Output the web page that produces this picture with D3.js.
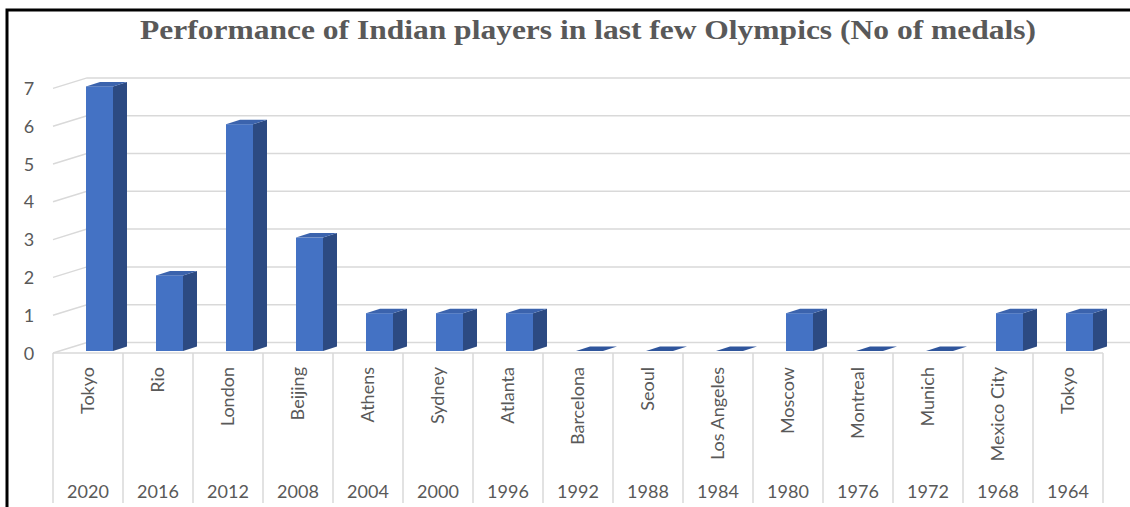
<!DOCTYPE html>
<html>
<head>
<meta charset="utf-8">
<script src="https://cdn.jsdelivr.net/npm/d3@7"></script>
<style>
  html, body { margin: 0; padding: 0; background: #fff; }
  svg { display: block; }
</style>
</head>
<body>
<div id="chart"></div>
<script>
(function () {
    'use strict';

    const title = 'Performance of Indian players in last few Olympics (No of medals)';
    const cities = ['Tokyo', 'Rio', 'London', 'Beijing', 'Athens', 'Sydney', 'Atlanta', 'Barcelona',
        'Seoul', 'Los Angeles', 'Moscow', 'Montreal', 'Munich', 'Mexico City', 'Tokyo'];
    const years = ['2020', '2016', '2012', '2008', '2004', '2000', '1996', '1992',
        '1988', '1984', '1980', '1976', '1972', '1968', '1964'];
    const medals = [7, 2, 6, 3, 1, 1, 1, 0, 0, 0, 1, 0, 0, 1, 1];
    const yTicks = [0, 1, 2, 3, 4, 5, 6, 7];

    const width = 1130;
    const height = 507;
    const depthX = 34, depthY = -10.5;   // wall depth
    const barDX = 14, barDY = -4.5;      // bar depth
    const grid = '#d9d9d9';
    const textColor = '#595959';

    const svg = d3.select('#chart').append('svg')
        .attr('width', width)
        .attr('height', height);

    const x = d3.scaleBand()
        .domain(years)
        .range([53, 1103]);

    const y = d3.scaleLinear()
        .domain([0, 7])
        .range([353, 88.4]);

    // frame
    svg.append('path')
        .attr('d', `M7,${height} L7,10 L${width},10`)
        .attr('fill', 'none')
        .attr('stroke', '#000')
        .attr('stroke-width', 3);

    // title (stretched to the reference width)
    svg.append('text')
        .attr('x', 140)
        .attr('y', 39)
        .attr('textLength', 896)
        .attr('lengthAdjust', 'spacingAndGlyphs')
        .attr('font-family', '"Liberation Serif", "Times New Roman", serif')
        .attr('font-weight', 'bold')
        .attr('font-size', 27)
        .attr('fill', textColor)
        .text(title);

    // gridlines: left wall diagonal + back wall horizontal
    const gridG = svg.append('g')
        .attr('fill', 'none')
        .attr('stroke', grid)
        .attr('stroke-width', 1.5);

    gridG.selectAll('path')
        .data(yTicks)
        .join('path')
        .attr('d', d => `M${x.range()[0]},${y(d)} L${x.range()[0] + depthX},${y(d) + depthY} L${width},${y(d) + depthY}`);

    // front floor line
    gridG.append('line')
        .attr('x1', x.range()[0]).attr('x2', x.range()[1])
        .attr('y1', y(0)).attr('y2', y(0));

    // category dividers
    const bounds = years.map(d => x(d)).concat([x.range()[1]]);
    gridG.selectAll('line.div')
        .data(bounds)
        .join('line')
        .attr('class', 'div')
        .attr('x1', d => d).attr('x2', d => d)
        .attr('y1', y(0)).attr('y2', 503);

    // y labels
    svg.append('g')
        .attr('font-family', 'Lato, "Open Sans", sans-serif')
        .attr('font-size', 18)
        .attr('fill', textColor)
        .selectAll('text')
        .data(yTicks)
        .join('text')
        .attr('x', 29)
        .attr('y', d => y(d) + 2)
        .attr('text-anchor', 'middle')
        .attr('dominant-baseline', 'middle')
        .text(d => d);

    // bars
    const barW = 27;
    const bars = svg.append('g')
        .selectAll('g')
        .data(medals.map((v, i) => ({ v, year: years[i] })))
        .join('g');

    const x0 = d => x(d.year) + 33;
    const top = d => y(d.v) - 2;
    const bottom = () => y(0) - 2;

    bars.filter(d => d.v > 0).append('rect')
        .attr('x', x0)
        .attr('y', top)
        .attr('width', barW)
        .attr('height', d => bottom() - top(d))
        .attr('fill', '#4472c4');

    bars.filter(d => d.v > 0).append('path')
        .attr('d', d => {
            const a = x0(d) + barW;
            return `M${a},${top(d)} L${a + barDX},${top(d) + barDY} L${a + barDX},${bottom() + barDY} L${a},${bottom()} Z`;
        })
        .attr('fill', '#2c4a82');

    bars.append('path')
        .attr('d', d => {
            const a = x0(d), b = x0(d) + barW;
            return `M${a},${top(d)} L${b},${top(d)} L${b + barDX},${top(d) + barDY} L${a + barDX},${top(d) + barDY} Z`;
        })
        .attr('fill', d => d.v > 0 ? '#3b63ad' : '#2f559c');

    // category labels
    const labels = svg.append('g')
        .attr('font-family', 'Lato, "Open Sans", sans-serif')
        .attr('font-size', 18)
        .attr('fill', textColor);

    labels.selectAll('text.city')
        .data(cities)
        .join('text')
        .attr('class', 'city')
        .attr('transform', (d, i) => `translate(${x(years[i]) + x.bandwidth() / 2},367) rotate(-90)`)
        .attr('text-anchor', 'end')
        .attr('dy', '0.35em')
        .text(d => d);

    labels.selectAll('text.year')
        .data(years)
        .join('text')
        .attr('class', 'year')
        .attr('x', d => x(d) + x.bandwidth() / 2)
        .attr('y', 498)
        .attr('text-anchor', 'middle')
        .text(d => d);
})();
</script>
</body>
</html>
